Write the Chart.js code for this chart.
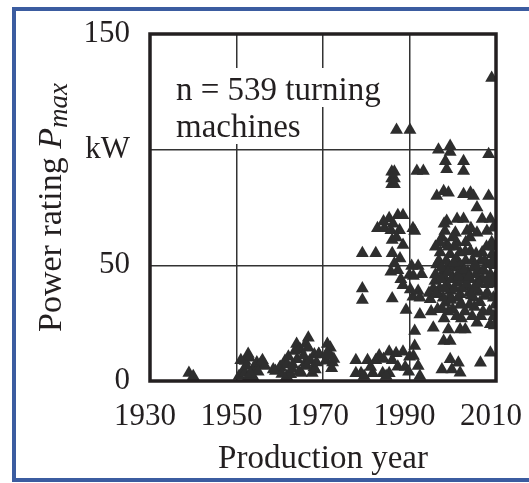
<!DOCTYPE html>
<html>
<head>
<meta charset="utf-8">
<script src="https://cdn.jsdelivr.net/npm/chart.js@4"></script>
<style>
  html, body { margin: 0; padding: 0; background: #fff; }
  #wrap { position: relative; width: 529px; height: 483px; overflow: hidden; }
  #frame { position: absolute; left: 12px; top: 7px; width: 540px; height: 467px; border: 4px solid #3b5ca0; }
  canvas { position: absolute; left: 0; top: 0; }
</style>
</head>
<body>
<div id="wrap">
  <div id="frame"></div>
  <canvas id="chart" width="529" height="483"></canvas>
</div>
<script>
// machines built 1935-1975
const earlyYears = [1939, 1940, 1950.6, 1951.5, 1952, 1952, 1952.7, 1953, 1953.8, 1954, 1954.7, 1955.5, 1955.7, 1956.6, 1952.5, 1953.5,
  1959, 1960, 1960.2, 1961.2, 1961.6, 1961.7, 1962.5, 1962.8, 1963.9, 1964, 1964.7, 1965, 1965.9, 1966, 1966, 1966.6, 1966.6,
  1967.5, 1967.9, 1968, 1968.2, 1969, 1969.1, 1970.6, 1971, 1971.7, 1971.8, 1972.2, 1972.5,
  1951, 1952.3, 1953.2, 1955, 1956, 1962, 1963, 1964.5, 1965.5, 1967, 1968.5, 1963.5, 1970.9, 1972, 1958.5, 1960.5];
const earlyPower = [3.5, 2, 2.2, 4.3, 8.6, 3.5, 11.7, 10, 5.2, 1.3, 8, 7.2, 7.8, 6.5, 1, 2.5,
  4.3, 5.8, 6, 8.6, 2, 7.2, 2.9, 5.2, 16, 9.4, 13.7, 3.5, 7.9, 16, 6.5, 18.7, 14.4,
  3.5, 5.8, 11.5, 5, 11.7, 11.5, 8.7, 16, 14.4, 10.8, 8, 9.5,
  9, 6.5, 3, 4, 9, 10.5, 7, 4, 11, 9, 8, 13, 12, 5.5, 5, 3];

// machines built 1977-1990
const midYears = [1977.6, 1980.3, 1982.2, 1985.3, 1986.9, 1988.5, 1990, 1978.8, 1981.5, 1983.8, 1985.3, 1987.3, 1977.6, 1979.5, 1984.6,
  1979.1, 1982.2, 1982.6, 1984.2, 1985.3, 1985.7, 1986, 1986, 1986.5, 1985.7, 1987.3, 1987.3, 1988.5, 1987.7, 1988.5, 1990,
  1988.5, 1979.1, 1979.1, 1986, 1989.2, 1990.8,
  1985.9, 1986.5, 1985.9, 1986.5, 1985.9, 1986.5, 1987, 1990.1,
  1986.2, 1987, 1987.8, 1988, 1984, 1983, 1986, 1989, 1989.8, 1984, 1981];
const midPower = [9, 9, 9, 12.6, 12, 12.6, 10.5, 3.3, 3.3, 3.3, 3.3, 6.2, 3.3, 2.2, 2.2,
  55.2, 55.2, 66, 66, 70.3, 65.2, 60.9, 55.2, 50.8, 47.2, 47.9, 71.7, 71.7, 65.2, 58.8, 45.8,
  41.4, 40, 35, 35.7, 30.7, 36.4,
  90.5, 90.5, 87.5, 87.5, 85, 85, 108.5, 108.5,
  68, 62, 53, 44, 69, 11, 9, 6, 4, 9.5, 6];

// machines built 1990-2010
const lateYears = [2009, 1996.7, 1999.4, 1999.4, 2008.3, 1998.3, 1998.6, 2002.5, 2002.5, 1991.7, 1993.2,
  1997.9, 1999, 1996.3, 2002.5, 2004.1, 2004.8, 2008.3, 2005.6, 1998.6, 2002.5, 2006.8, 2008.7, 1990.8,
  1991.2, 1998.2, 2000.6, 2003.3, 2005.6, 2007.9, 2009.4, 1998.6, 1997.1, 1999.4, 2001.7, 2004.1, 2006.8, 2009.1,
  1992, 1990.5, 1992.8, 1990.9, 1992, 1990.2, 1996.3, 1997.9, 2000.2, 2002.5, 2004.8, 2007.2, 2008.7,
  1995.9, 1998.6, 2001, 2003.3, 2005.6, 2007.9, 1996.7, 1999.4, 2001.7, 2004.8, 2007.5, 2009.4, 1994.8, 1998.3, 2001.7, 1992.4,
  1992.4, 1995.5, 1997.9, 1999.4, 1999, 2001.7, 2002.9, 2005.6, 2008.7, 1991.2, 1991.2, 1990.9, 1992, 1992.4,
  1999.4, 2001.3, 1997.5, 1999.8, 2001.7, 2006.4, 2008.7,
  1996, 1997.5, 1999, 2000, 2001, 2002, 2003, 2004, 2005.5, 2006.5, 2000.5, 2003, 1998, 1999.5, 2001.5, 2003.8,
  2006, 2008, 2009.5, 2009.5, 1997, 2000, 2002.8, 2005, 2007, 2009.5, 1996.5, 2004.5, 1998, 2000.9, 2004.2,
  1995.5, 1996, 1996.8, 1997.3, 1997.8, 1998.5, 1999, 1999.8, 2000.4, 2000.8, 2001.2, 2001.8, 2002.4, 2002.9,
  2003.5, 2003.9, 2004.6, 2005, 2005.9, 2006.3, 2006.9, 2007.4, 2008, 2008.5, 2009, 2009.7, 2009.8, 2009.8,
  1997, 2000, 2004, 1995, 1999, 2002, 2006.5, 2009.6, 1994.5, 1998, 2001, 2007.8,
  1996.2, 1997.4, 1998.1, 1998.9, 1999.6, 2000.2, 2001.4, 2002.1, 2002.7, 2003.2, 2004.3, 2005.2, 2006.1, 2007.1,
  2008.2, 2009.2, 1997.6, 2000.9, 2003.7, 2005.4];
const latePower = [131, 100, 101.6, 99, 98, 95, 91.5, 95, 90.8, 90.8, 90.8,
  82, 81.4, 80, 80.7, 81.4, 80, 80, 75, 69.2, 70, 70, 70, 66,
  64.8, 64.8, 64.1, 64.8, 64.1, 64.8, 66.3, 59, 55.5, 54.8, 55.5, 56.2, 55.5, 54.8,
  49.7, 49.7, 46.1, 45.4, 38.9, 39.6, 50.4, 47.5, 49, 47.5, 49, 47.5, 46.1,
  43.2, 41.8, 42.5, 41, 42.5, 41.8, 37.5, 36.7, 37.5, 36, 36.7, 36, 35.3, 33.8, 33.1, 36,
  28.8, 23, 17.3, 17.3, 22.3, 22.3, 22.3, 25.2, 24.5, 21.6, 15.1, 10.8, 6.5, 2.2,
  9.4, 7.9, 5, 5, 3.6, 7.9, 12.2,
  58, 62, 50, 45, 52, 40, 52, 44, 46, 52, 58, 60, 45, 39, 47, 38,
  38.5, 50.5, 42, 58, 40, 31, 30, 32, 30, 28, 31, 28, 27, 60, 66,
  40, 46, 52, 44, 36, 52, 58, 44, 40, 53, 36, 50, 44, 56,
  47, 33, 52, 40, 48, 34, 44, 52, 38, 30, 60, 50, 33, 45,
  60, 62, 62, 30, 30, 27, 28, 24, 38, 68, 70, 58,
  38, 49, 40, 47, 35, 51, 45, 33, 48, 42, 37, 50, 42, 48,
  44, 52, 31, 28, 45, 55];

const xTicks = [1930, 1950, 1970, 1990, 2010];
const yTicks = [0, 50, 100, 150];
const yTickText = ['0', '50', 'kW', '150'];

const textColor = '#231f20';
const serif = "'Liberation Serif', serif";
Chart.defaults.font.family = serif;

function toPoints(xs, ys) {
  return xs.map((x, i) => ({ x: x, y: ys[i] }));
}
const points = toPoints(earlyYears, earlyPower)
  .concat(toPoints(midYears, midPower))
  .concat(toPoints(lateYears, latePower));

// note box, plot frame and the y title with P_max
const decor = {
  id: 'decor',
  afterDatasetsDraw(chart) {
    const ctx = chart.ctx;
    const a = chart.chartArea;
    ctx.save();
    ctx.font = '33px ' + serif;
    const l1 = 'n = 539 turning', l2 = 'machines';
    const tx = a.left + 26;
    ctx.fillStyle = '#fff';
    ctx.fillRect(tx - 6, a.top + 34, ctx.measureText(l1).width + 12, 39);
    ctx.fillRect(tx - 6, a.top + 72, ctx.measureText(l2).width + 12, 38);
    ctx.fillStyle = textColor;
    ctx.fillText(l1, tx, a.top + 66);
    ctx.fillText(l2, tx, a.top + 103);

    ctx.lineWidth = 3.5;
    ctx.strokeStyle = textColor;
    ctx.strokeRect(a.left, a.top, a.right - a.left, a.bottom - a.top);
    ctx.restore();
  },
  afterDraw(chart) {
    const ctx = chart.ctx;
    ctx.save();
    ctx.translate(61, 332);
    ctx.rotate(-Math.PI / 2);
    ctx.fillStyle = textColor;
    ctx.textBaseline = 'alphabetic';
    ctx.font = '34px ' + serif;
    let x = 0;
    ctx.fillText('Power rating ', x, 0);
    x += ctx.measureText('Power rating ').width;
    ctx.font = 'italic 34px ' + serif;
    ctx.fillText('P', x, 0);
    x += ctx.measureText('P').width;
    ctx.font = 'italic 27px ' + serif;
    ctx.fillText('max', x, 6);
    ctx.restore();
  }
};

new Chart(document.getElementById('chart'), {
  type: 'scatter',
  data: {
    datasets: [{
      data: points,
      pointStyle: 'triangle',
      radius: 7.5,
      backgroundColor: '#2e2e2e',
      borderColor: '#2e2e2e',
      borderWidth: 0
    }]
  },
  options: {
    responsive: false,
    animation: false,
    devicePixelRatio: 1,
    layout: { padding: { top: 34, right: 33, bottom: 4, left: 0 } },
    plugins: { legend: { display: false }, tooltip: { enabled: false } },
    scales: {
      x: {
        type: 'linear',
        min: 1930,
        max: 2010,
        afterBuildTicks: s => { s.ticks = xTicks.map(v => ({ value: v })); },
        afterFit: s => { s.height = 98; s.paddingLeft = 0; s.paddingRight = 0; },
        border: { display: false },
        grid: { color: '#333', lineWidth: 1.5, drawTicks: false },
        ticks: { color: textColor, font: { size: 31 }, padding: 17, labelOffset: -5, maxRotation: 0, autoSkip: false,
                 callback: v => String(v) },
        title: { display: true, text: 'Production year', color: textColor, font: { size: 33 },
                 padding: { top: 0, bottom: 0 } }
      },
      y: {
        min: 0,
        max: 150,
        afterBuildTicks: s => { s.ticks = yTicks.map(v => ({ value: v })); },
        afterFit: s => { s.width = 150; s.paddingTop = 0; s.paddingBottom = 0; },
        border: { display: false },
        grid: { color: '#333', lineWidth: 1.5, drawTicks: false },
        ticks: { color: textColor, font: { size: 31 }, padding: 20,
                 callback: v => yTickText[yTicks.indexOf(v)] }
      }
    }
  },
  plugins: [decor]
});
</script>
</body>
</html>
